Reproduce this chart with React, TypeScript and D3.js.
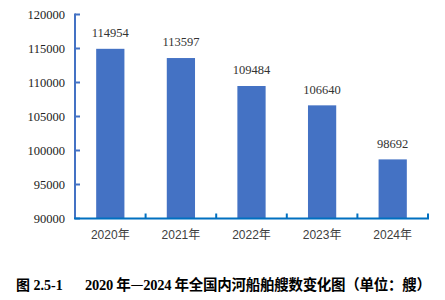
import React from "react";
import * as d3 from "d3";

const categories = ["2020年", "2021年", "2022年", "2023年", "2024年"];
const values = [114954, 113597, 109484, 106640, 98692];
const yTicks = [90000, 95000, 100000, 105000, 110000, 115000, 120000];
const captionLabel = "图 2.5-1";
const captionParts = ["2020 年", "—", "2024 年全国内河船舶艘数变化图（单位：艘）"];

export default function App() {
  const W = 445, H = 300;
  const left = 75, right = 428, top = 14.5, bottom = 218.5;
  const x = d3.scaleBand<string>().domain(categories).range([left, right]).paddingInner(0.6).paddingOuter(0.3);
  const y = d3.scaleLinear().domain([90000, 120000]).range([bottom, top]);
  const bounds = d3.range(categories.length + 1).map((i) => left + (i * (right - left)) / categories.length);
  const serif = "'Liberation Serif', 'Times New Roman', 'Noto Sans CJK SC', serif";
  const sans = "'Liberation Sans', 'Noto Sans CJK SC', sans-serif";
  return (
    <svg width={W} height={H} style={{ position: "absolute", left: 0, top: 0, background: "#fff" }}>
      <rect width={W} height={H} fill="#fff" />
      {yTicks.map((t) => (
        <g key={t}>
          <line x1={left} x2={left + 5} y1={y(t)} y2={y(t)} stroke="#4472C4" strokeWidth={2} />
          <text x={65} y={y(t)} dy="0.35em" textAnchor="end" fontFamily={serif} fontSize={12.5} fill="#222">
            {t}
          </text>
        </g>
      ))}
      <line x1={left} x2={left} y1={top - 1} y2={bottom} stroke="#4472C4" strokeWidth={2} />
      {values.map((v, i) => (
        <g key={categories[i]}>
          <rect x={x(categories[i])} y={y(v)} width={x.bandwidth()} height={bottom - y(v)} fill="#4472C4" />
          <text x={(x(categories[i]) as number) + x.bandwidth() / 2} y={y(v) - 16} dy="0.35em" textAnchor="middle" fontFamily={serif} fontSize={12.5} fill="#333">
            {v}
          </text>
          <text x={(x(categories[i]) as number) + x.bandwidth() / 2} y={235} dy="0.35em" textAnchor="middle" fontFamily={sans} fontSize={12} fill="#404040">
            {categories[i]}
          </text>
        </g>
      ))}
      <line x1={left - 1} x2={right + 1} y1={bottom} y2={bottom} stroke="#0070C0" strokeWidth={2} />
      {bounds.slice(1).map((b, i) => (
        <line key={i} x1={b} x2={b} y1={bottom} y2={bottom - 5} stroke="#0070C0" strokeWidth={2} />
      ))}
      <text x={16} y={285} dy="0.35em" fontFamily={serif} fontWeight="bold" fontSize={14} fill="#000">
        {captionLabel}
      </text>
      <text x={85} y={285} dy="0.35em" fontFamily={serif} fontWeight="bold" fontSize={14.5} fill="#000" textLength={346} lengthAdjust="spacing">
        <tspan>{captionParts[0]}</tspan>
        <tspan fontFamily="'Noto Sans CJK SC', sans-serif" fontWeight="normal">{captionParts[1]}</tspan>
        <tspan>{captionParts[2]}</tspan>
      </text>
    </svg>
  );
}
